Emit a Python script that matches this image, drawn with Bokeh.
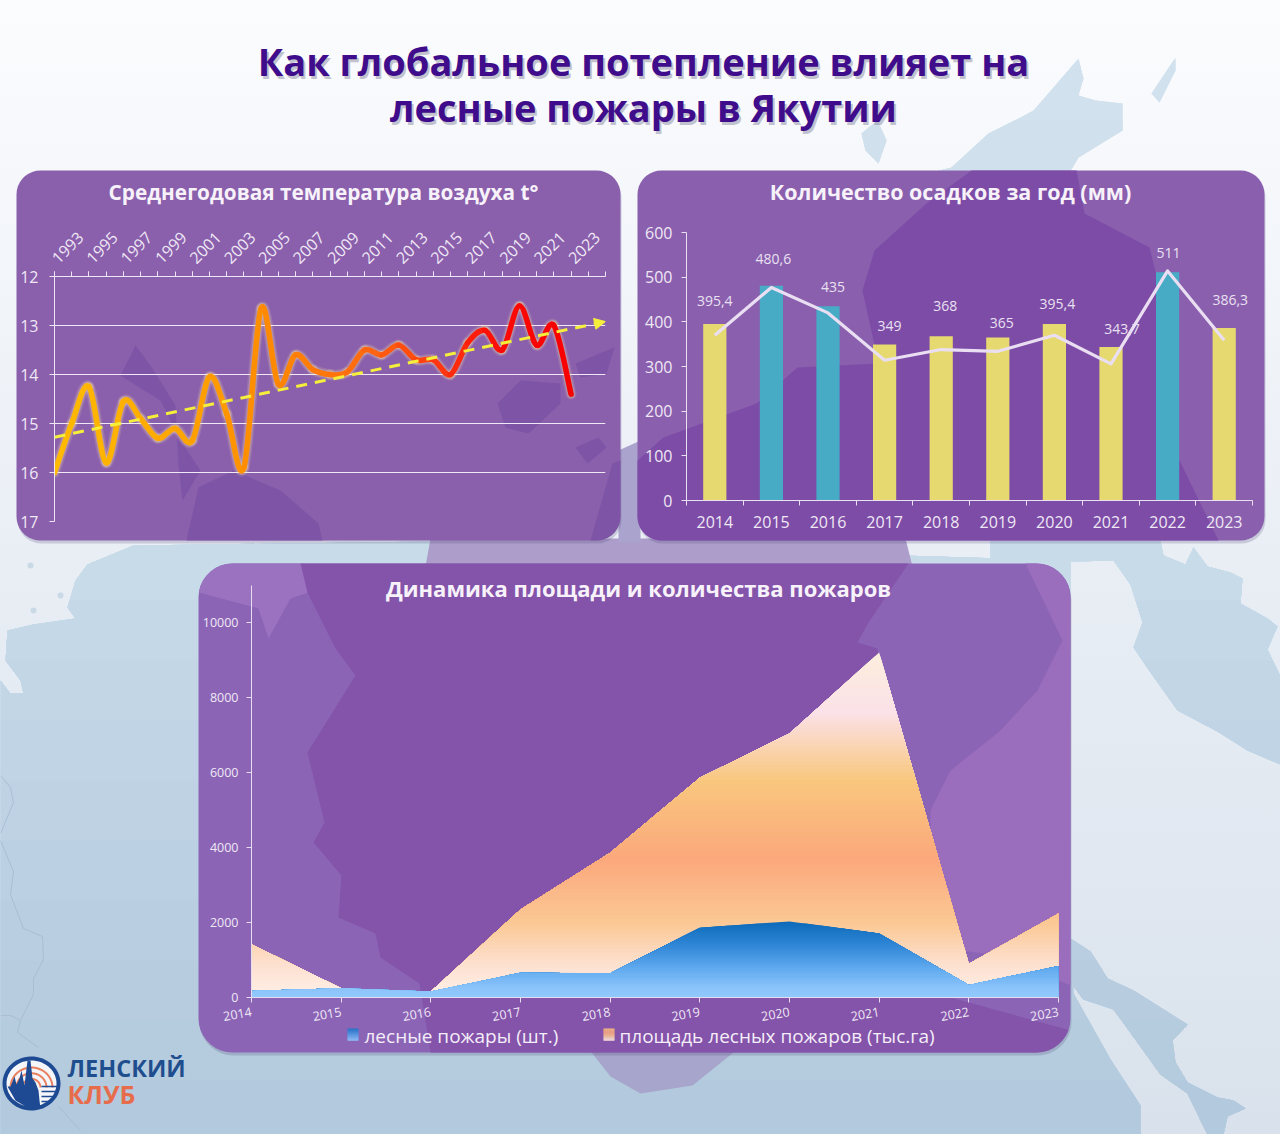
import numpy as np
from bokeh.core.properties import value
from bokeh.embed import file_html
from bokeh.layouts import column, row
from bokeh.models import (Arrow, ColumnDataSource, FixedTicker,
                          NormalHead, Range1d)
from bokeh.plotting import figure
from bokeh.resources import INLINE

# ---------- data ----------
title_lines = ["Как глобальное потепление влияет на", "лесные пожары в Якутии"]
temp_title = "Среднегодовая температура воздуха t°"
temp_years = list(range(1993, 2024))
temp_values = [16.0, 15.0, 14.25, 15.8, 14.55, 14.9, 15.3, 15.1, 15.35, 14.05, 14.8,
               15.9, 12.65, 14.2, 13.6, 13.9, 14.0, 13.95, 13.5, 13.6, 13.4, 13.7,
               13.7, 14.0, 13.35, 13.1, 13.5, 12.6, 13.4, 13.0, 14.4]
trend_years = [1993, 2025]
trend_values = [15.28, 12.92]

rain_title = "Количество осадков за год (мм)"
rain_years = list(range(2014, 2024))
rain_values = [395.4, 480.6, 435, 349, 368, 365, 395.4, 343.7, 511, 386.3]
rain_labels = ["395,4", "480,6", "435", "349", "368", "365", "395,4", "343,7", "511", "386,3"]
rain_line = [370, 477, 420, 314, 338, 334, 370, 306, 514, 359]
rain_colors = ["#e6d96f", "#47abc6", "#47abc6", "#e6d96f", "#e6d96f", "#e6d96f",
               "#e6d96f", "#e6d96f", "#47abc6", "#e6d96f"]
rain_label_dx = [0, 2, 5, 5, 4, 4, 3, 11, 1, 6]
rain_label_dy = [23, 27, 19, 19, 30, 14, 20, 18, 19, 28]

fire_title = "Динамика площади и количества пожаров"
fire_years = list(range(2014, 2024))
fire_area = [1420, 250, 160, 2350, 3860, 5860, 7040, 9200, 900, 2240]
fire_count = [175, 245, 160, 660, 650, 1860, 2030, 1710, 335, 840]
legend_labels = ["лесные пожары (шт.)", "площадь лесных пожаров (тыс.га)"]
logo_lines = ["ЛЕНСКИЙ", "КЛУБ"]

FONT = "Open Sans"
INK = "#efe8f5"


# ---------- helpers ----------
def hexrgb(c):
    return np.array([int(c[i:i + 2], 16) for i in (1, 3, 5)], float)


def ramp(pos, stops):
    xs = [s[0] for s in stops]
    cols = np.array([hexrgb(s[1]) for s in stops])
    rgb = [np.interp(pos, xs, cols[:, i]) for i in range(3)]
    return "#%02x%02x%02x" % tuple(int(round(v)) for v in rgb)


def rrect(x0, y0, x1, y1, r):
    pts = []
    for cx, cy, a0 in ((x1 - r, y0 + r, -90), (x1 - r, y1 - r, 0), (x0 + r, y1 - r, 90), (x0 + r, y0 + r, 180)):
        for a in np.radians(np.linspace(a0, a0 + 90, 10)):
            pts.append((cx + r * np.cos(a), cy + r * np.sin(a)))
    return pts


def clip_convex(poly, clip):
    out = list(poly)
    n = len(clip)
    for i in range(n):
        a, b = np.array(clip[i]), np.array(clip[(i + 1) % n])
        side = lambda p: (b[0] - a[0]) * (p[1] - a[1]) - (b[1] - a[1]) * (p[0] - a[0])
        inp, out = out, []
        for j in range(len(inp)):
            p, q = np.array(inp[j]), np.array(inp[(j + 1) % len(inp)])
            sp, sq = side(p), side(q)
            if sp >= 0:
                out.append(tuple(p))
            if sp * sq < 0:
                out.append(tuple(p + (q - p) * sp / (sp - sq)))
        if not out:
            return []
    return out


def clip_below(poly, ymin):
    out = []
    for j in range(len(poly)):
        p, q = np.array(poly[j], float), np.array(poly[(j + 1) % len(poly)], float)
        if p[1] >= ymin:
            out.append(tuple(p))
        if (p[1] - ymin) * (q[1] - ymin) < 0:
            out.append(tuple(p + (q - p) * (ymin - p[1]) / (q[1] - p[1])))
    return out


def capped(xs, ys, cap):
    """vertices of the polyline min(y, cap), so a gradient can be painted as nested areas"""
    ox, oy = [], []
    for i in range(len(xs)):
        ox.append(xs[i])
        oy.append(min(ys[i], cap))
        if i + 1 < len(xs) and (ys[i] - cap) * (ys[i + 1] - cap) < 0:
            t = (cap - ys[i]) / (ys[i + 1] - ys[i])
            ox.append(xs[i] + t * (xs[i + 1] - xs[i]))
            oy.append(cap)
    return ox, oy


def draw_poly(fig, pts, color, alpha=1.0, clip=None):
    if clip is not None:
        pts = clip_convex(pts, clip)
    if pts:
        fig.patch([p[0] for p in pts], [p[1] for p in pts], fill_color=color,
                  fill_alpha=alpha, line_color=None)


# ---------- page background figure (page pixel coordinates) ----------
bg = figure(width=1280, height=1134, x_range=Range1d(0, 1280), y_range=Range1d(1134, 0),
            output_backend="svg", toolbar_location=None, min_border=0, outline_line_color=None,
            background_fill_color=None, border_fill_color=None, frame_align=False)
bg.axis.visible = False
bg.grid.visible = False

land_a = [(133, 545), (87, 564), (75, 580), (67, 607), (75, 618), (33, 624), (7, 630), (5, 660),
          (20, 680), (23, 693), (10, 693), (0, 680), (0, 1134), (1140, 1134), (1140, 1105),
          (1110, 1059), (1073, 993), (1070, 930), (1070, 560), (430, 541)]
land_b = [(990, 541), (1160, 541), (1163, 555), (1185, 564), (1193, 547), (1207, 566), (1230, 572),
          (1242, 578), (1240, 603), (1267, 618), (1277, 626), (1267, 649), (1280, 676), (1280, 764),
          (1247, 750), (1217, 731), (1177, 710), (1150, 672), (1133, 647), (1142, 622), (1130, 584),
          (1113, 560), (990, 563)]
land_c = [(1070, 938), (1090, 951), (1107, 978), (1133, 990), (1187, 1024), (1172, 1040), (1175, 1062),
          (1187, 1082), (1217, 1097), (1233, 1100), (1245, 1108), (1227, 1116), (1223, 1134), (1207, 1134),
          (1187, 1093), (1160, 1074), (1127, 1028), (1113, 1009), (1083, 999), (1070, 982)]
land_d = [(931, 172), (951, 167), (988, 133), (1020, 117), (1033, 110), (1053, 87), (1078, 58), (1083, 78),
          (1078, 95), (1095, 100), (1122, 103), (1122, 130), (1078, 157), (1069, 172)]
land_e = [(1175, 57), (1151, 93), (1159, 102), (1175, 70)]
land_f = [(861, 133), (877, 120), (886, 140), (878, 163), (865, 150)]
LAND = [(0, "#d3e2ee"), (560, "#c8dbe9"), (800, "#bed2e4"), (1134, "#b2c8dc")]
for poly in (land_a, land_b, land_c, land_d, land_e, land_f):
    for k, ycut in enumerate(range(0, 1134, 60)):
        sub = clip_below(poly, ycut)
        if len(sub) > 2:
            draw_poly(bg, sub, ramp(ycut + 30, LAND))
bg.multi_line([[0, 10, 13, 0], [0, 13, 10, 23, 42, 43, 33, 33, 20, 17, 38], [0, 10, 20], [57, 80]],
              [[775, 787, 802, 833], [840, 871, 894, 928, 936, 959, 978, 994, 1020, 1032, 1047],
               [1015, 1015, 1020], [1105, 1130]], line_color="#a2bad0", line_width=1, line_alpha=0.8)
for cx, cy, rr in ((30, 565, 3), (60, 595, 3), (33, 610, 3)):
    bg.scatter([cx], [cy], size=2 * rr, color="#c9d9e6", line_color=None)

# lilac traces of the region seen between the panels
draw_poly(bg, [(430, 538), (905, 538), (912, 566), (425, 566)], "#ad9dcb")
draw_poly(bg, [(588, 1048), (738, 1048), (692, 1085), (640, 1093), (610, 1076)], "#a7a5cb")
draw_poly(bg, [(618, 450), (640, 440), (640, 542), (618, 542)], "#aaa3cd")

# panels
p1_box = rrect(16, 170, 620, 540, 24)
p2_box = rrect(637, 170, 1264, 540, 24)
p3_box = rrect(198, 563, 1070, 1052, 34)
for box in (p1_box, p2_box, p3_box):
    draw_poly(bg, [(x + 1, y + 3) for x, y in box], "#4d4a78", 0.22)
draw_poly(bg, p1_box, "#8a5fac")
draw_poly(bg, p2_box, "#8a5fae")
draw_poly(bg, p3_box, "#8b64b6")

# darker map traces inside panel 1
for poly in ([(120, 375), (135, 345), (150, 365), (175, 405), (178, 465), (182, 500), (200, 470), (180, 440), (160, 400)],
             [(198, 487), (233, 470), (280, 490), (318, 523), (322, 540), (186, 540)],
             [(497, 403), (520, 380), (560, 383), (560, 403), (528, 433), (505, 427)],
             [(575, 363), (614, 347), (606, 373), (580, 377)],
             [(575, 447), (598, 437), (606, 447), (587, 463)],
             [(612, 463), (620, 460), (620, 540), (590, 540)]):
    draw_poly(bg, poly, "#7b51a5", 0.8, p1_box)

# darker map trace inside panel 2
draw_poly(bg, [(971, 170), (1076, 170), (1084, 213), (1149, 247), (1173, 343), (1161, 423), (1218, 540), (637, 540),
               (637, 460), (663, 437), (756, 403), (797, 367), (878, 363), (862, 290), (874, 250), (926, 203)],
          "#7d4ca7", 1, p2_box)

# lighter and darker map traces inside panel 3
draw_poly(bg, [(198, 563), (300, 563), (330, 585), (290, 598), (268, 638), (258, 608), (198, 592)], "#9b72c0", 1, p3_box)
draw_poly(bg, [(1025, 563), (1070, 563), (1070, 985), (1000, 955), (960, 950), (930, 915), (930, 810), (950, 770),
               (1000, 730), (1037, 690), (1062, 640)], "#9a6dbd", 1, p3_box)
draw_poly(bg, [(300, 563), (908, 563), (868, 622), (857, 642), (877, 648), (895, 900), (925, 990), (1070, 1030),
               (1070, 1052), (430, 1052), (419, 983), (380, 957), (375, 933), (338, 917), (341, 875), (313, 842),
               (324, 822), (307, 752), (355, 675), (335, 648), (307, 592)], "#8453aa", 1, p3_box)

# titles
for text, y in zip(title_lines, (60, 106)):
    bg.text([643 + 2], [y + 3], text=[text], text_font=value(FONT), text_font_style="bold", text_font_size="38px",
            text_color="#7d7d96", text_alpha=0.45, text_align="center", text_baseline="middle")
    bg.text([643], [y], text=[text], text_font=value(FONT), text_font_style="bold", text_font_size="38px",
            text_color="#3f0d8c", text_align="center", text_baseline="middle")
for text, x, y, fs in ((temp_title, 323, 191, "20.8px"), (rain_title, 950, 191, "21.5px"), (fire_title, 638, 587, "22px")):
    bg.text([x], [y], text=[text], text_font=value(FONT), text_font_style="bold", text_font_size=fs,
            text_color="#f7f2fa", text_align="center", text_baseline="middle")

# logo
th = np.radians(np.linspace(0, 360, 60))
bg.patch(31 + 29 * np.cos(th), 1083 + 27 * np.sin(th), fill_color="#1d4a92", line_color=None)
bg.patch(31 + 25 * np.cos(th), 1083 + 23 * np.sin(th), fill_color="#f4f6fa", line_color=None)
half = np.radians(np.linspace(180, 360, 30))
for r_ in (21, 15, 9):
    bg.line(31 + r_ * np.cos(half), 1087 + r_ * 0.95 * np.sin(half), line_color="#e9805f", line_width=2)
bg.patch([7, 10, 14, 16, 19, 21, 24, 27, 30, 32, 35, 38, 39, 40, 30, 15],
         [1086, 1086, 1076, 1084, 1078, 1070, 1085, 1060, 1060, 1078, 1082, 1090, 1100, 1108, 1109, 1100],
         fill_color="#1d4a92", line_color=None)
for yy in (1086, 1091, 1096, 1101):
    bg.line([41, 58 - abs(yy - 1086) * 0.5], [yy, yy], line_color="#1d4a92", line_width=1.6)
bg.text([67], [1067], text=[logo_lines[0]], text_font=value(FONT), text_font_style="bold", text_font_size="23.5px",
        text_color="#1f4e8f", text_align="left", text_baseline="middle")
bg.text([67], [1093], text=[logo_lines[1]], text_font=value(FONT), text_font_style="bold", text_font_size="25px",
        text_color="#e76c4b", text_align="left", text_baseline="middle")

# colour ramps of the fires chart (also used by its legend swatches)
ORANGE = [(0, "#fff0e8"), (900, "#fde0cf"), (2000, "#fbc894"), (3700, "#fba87c"), (5800, "#f9c77e"),
          (7600, "#fbe1e8"), (9200, "#fdeedd")]
BLUE = [(0, "#90c8fd"), (250, "#8cc4fb"), (800, "#5ea8ee"), (1400, "#2f86d6"), (2030, "#0d6ab8")]

# legend of the fires chart
for sx, stops, span in ((347, BLUE, 1600), (603, ORANGE, 5200)):
    for i in range(12):
        bg.quad(left=[sx], right=[sx + 11], top=[1028 + i], bottom=[1029.2 + i],
                fill_color=ramp(span * (1 - (i + 0.5) / 12) + 200, stops), line_color=None)
for text, x in zip(legend_labels, (364, 619)):
    bg.text([x], [1035], text=[text], text_font=value(FONT), text_font_size="19px",
            text_color="#f4eef8", text_align="left", text_baseline="middle")


def base_style(fig):
    fig.background_fill_color = None
    fig.border_fill_color = None
    fig.outline_line_color = None
    fig.frame_align = False


# ---------- temperature chart ----------
p1 = figure(width=604, height=370, x_range=Range1d(1993, 2025), y_range=Range1d(17, 12),
            x_axis_location="above", output_backend="svg", toolbar_location=None,
            min_border_left=38, min_border_right=15, min_border_top=106, min_border_bottom=19)
base_style(p1)
p1.xgrid.visible = False
p1.ygrid.grid_line_color = "#f0e8f6"
p1.ygrid.grid_line_width = 1.2
p1.ygrid.ticker = FixedTicker(ticks=[12, 13, 14, 15, 16, 17])
p1.yaxis.ticker = FixedTicker(ticks=[12, 13, 14, 15, 16, 17])
p1.xaxis.ticker = FixedTicker(ticks=list(range(1993, 2024, 2)), minor_ticks=list(range(1993, 2026)))
p1.xaxis.major_label_orientation = np.pi / 4
p1.xaxis.major_label_standoff = 11
for ax in (p1.xaxis[0], p1.yaxis[0]):
    ax.axis_line_color = "#efe6f5"
    ax.major_tick_line_color = "#efe6f5"
    ax.minor_tick_line_color = "#efe6f5"
    ax.major_tick_in = 0
    ax.minor_tick_in = 0
    ax.major_tick_out = 5
    ax.minor_tick_out = 5
    ax.major_label_text_color = INK
    ax.major_label_text_font = FONT
p1.xaxis.major_label_text_font_size = "16px"
p1.yaxis.major_label_text_font_size = "16px"
p1.yaxis.minor_tick_line_color = None
p1.yaxis.major_label_standoff = 11

tx = np.array(temp_years, float)
ty = np.array(temp_values, float)
ix0 = np.arange(len(tx) - 1)
im = np.maximum(ix0 - 1, 0)
ip = np.minimum(ix0 + 2, len(tx) - 1)
seg = dict(x0=tx[ix0], y0=ty[ix0], x1=tx[ix0 + 1], y1=ty[ix0 + 1],
           cx0=tx[ix0] + (tx[ix0 + 1] - tx[im]) / 6, cy0=ty[ix0] + (ty[ix0 + 1] - ty[im]) / 6,
           cx1=tx[ix0 + 1] - (tx[ip] - tx[ix0]) / 6, cy1=ty[ix0 + 1] - (ty[ip] - ty[ix0]) / 6)
LINE = [(1993, "#ffbb00"), (2000, "#ffa800"), (2005, "#ff8c00"), (2011, "#ff6a10"), (2016, "#ff3010"),
        (2019, "#fb0a05"), (2023, "#f80000")]
seg["color"] = [ramp(v + 0.5, LINE) for v in tx[ix0]]
src = ColumnDataSource(seg)
bz = dict(x0="x0", y0="y0", x1="x1", y1="y1", cx0="cx0", cy0="cy0", cx1="cx1", cy1="cy1", source=src)
p1.bezier(**bz, line_color="#ffe9a8", line_alpha=0.14, line_width=11, line_cap="round")
p1.bezier(**bz, line_color="#ffe9a8", line_alpha=0.25, line_width=8, line_cap="round")
p1.bezier(**bz, line_color="color", line_width=5.5, line_cap="round")
p1.add_layout(Arrow(end=NormalHead(size=11, fill_color="#f5ee3a", line_color="#f5ee3a"),
                    x_start=trend_years[0], y_start=trend_values[0], x_end=trend_years[1], y_end=trend_values[1],
                    line_color="#f5ee3a", line_width=3, line_dash="11 8"))

# ---------- rainfall chart ----------
p2 = figure(width=627, height=370, x_range=Range1d(2013.5, 2023.5), y_range=Range1d(0, 600),
            output_backend="svg", toolbar_location=None,
            min_border_left=49, min_border_right=12, min_border_top=62, min_border_bottom=40)
base_style(p2)
p2.grid.visible = False
p2.xaxis.ticker = FixedTicker(ticks=rain_years, minor_ticks=[y - 0.5 for y in rain_years] + [2023.5])
p2.yaxis.ticker = FixedTicker(ticks=[0, 100, 200, 300, 400, 500, 600])
for ax in (p2.xaxis[0], p2.yaxis[0]):
    ax.axis_line_color = "#e9e0f2"
    ax.major_tick_in = 0
    ax.minor_tick_in = 0
    ax.major_tick_out = 5
    ax.minor_tick_out = 5
    ax.major_label_text_color = INK
    ax.major_label_text_font = FONT
    ax.major_label_text_font_size = "16px"
    ax.minor_tick_line_color = "#e9e0f2"
    ax.major_tick_line_color = "#e9e0f2"
p2.xaxis.major_tick_line_color = None
p2.yaxis.minor_tick_line_color = None
p2.xaxis.major_label_standoff = 10
p2.yaxis.major_label_standoff = 9
p2.vbar(x=rain_years, top=rain_values, width=0.41, fill_color=rain_colors, line_color=None)
p2.line(rain_years, rain_line, line_color="#eadff2", line_width=3.2, line_join="round")
label_src = ColumnDataSource(dict(x=rain_years, y=rain_values, t=rain_labels,
                                  dx=rain_label_dx, dy=[-d for d in rain_label_dy]))
p2.text(x="x", y="y", text="t", x_offset="dx", y_offset="dy", source=label_src, text_font=value(FONT),
        text_font_size="14px", text_color="#e9e1f1", text_align="center", text_baseline="middle")

# ---------- fires chart ----------
p3 = figure(width=872, height=489, x_range=Range1d(2014, 2023), y_range=Range1d(0, 10987),
            output_backend="svg", toolbar_location=None,
            min_border_left=53, min_border_right=12, min_border_top=22, min_border_bottom=55)
base_style(p3)
p3.grid.visible = False
p3.xaxis.ticker = FixedTicker(ticks=fire_years)
p3.yaxis.ticker = FixedTicker(ticks=[0, 2000, 4000, 6000, 8000, 10000])
p3.xaxis.major_label_orientation = np.radians(10)
for ax in (p3.xaxis[0], p3.yaxis[0]):
    ax.axis_line_color = "#e7ddf0"
    ax.major_tick_line_color = "#e7ddf0"
    ax.minor_tick_line_color = None
    ax.major_tick_in = 0
    ax.major_tick_out = 5
    ax.major_label_text_color = INK
    ax.major_label_text_font = FONT
    ax.major_label_text_font_size = "12.5px"
p3.xaxis.major_label_standoff = 9
p3.yaxis.major_label_standoff = 8

for values, stops, top, n in ((fire_area, ORANGE, 9200, 92), (fire_count, BLUE, 2030, 34)):
    for cap in np.linspace(top, top / n, n):
        xs, ys = capped(fire_years, values, cap)
        p3.varea(xs, [0] * len(xs), ys, fill_color=ramp(cap - top / n / 2, stops))

# ---------- assemble: panels laid over the page figure ----------
top_row = row(p1, p2, margin=(170 - 1134, 0, 0, 16), spacing=17)
p3.margin = (23, 0, 0, 198)
page = column(bg, top_row, p3, spacing=0)

html = file_html(page, INLINE)
html = html.replace("</head>", "<style>html,body{height:100%;background:linear-gradient(#fbfcfe,#e9eef5 50%,#d9e2ec);}</style></head>", 1)
open("out.html", "w").write(html)
